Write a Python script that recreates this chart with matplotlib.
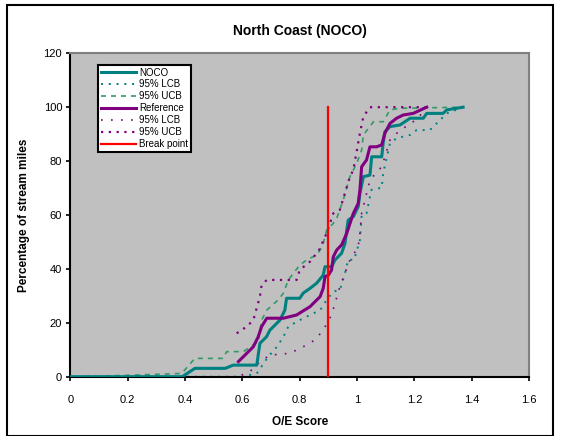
import matplotlib
matplotlib.use('Agg')
import matplotlib.pyplot as plt
from matplotlib.patches import Rectangle

plt.rcParams['font.family'] = ['Liberation Sans', 'DejaVu Sans']

# NOCO CDF and its confidence bounds
noco_x = [0.0, 0.39, 0.434, 0.54, 0.568, 0.65, 0.661, 0.684, 0.696, 0.731, 0.748, 0.754, 0.8, 0.812,
          0.836, 0.859, 0.882, 0.888, 0.911, 0.923, 0.946, 0.958, 0.964, 0.969, 0.987, 1.004, 1.01,
          1.022, 1.045, 1.051, 1.086, 1.091, 1.097, 1.115, 1.15, 1.185, 1.231, 1.243, 1.3, 1.313, 1.37]
noco_y = [0.0, 0.0, 3.1, 3.1, 4.3, 4.3, 12.4, 14.8, 17.3, 21.0, 24.7, 29.1, 29.1, 31.0,
          32.8, 34.7, 37.7, 40.8, 40.8, 43.3, 45.8, 49.5, 54.4, 58.1, 59.4, 63.1, 68.0,
          74.2, 74.8, 81.6, 81.6, 86.6, 90.9, 92.8, 93.4, 95.9, 95.9, 97.7, 97.7, 99.0, 100.0]

noco_lcb_x = [0.0, 0.60, 0.65, 0.69, 0.72, 0.743, 0.76, 0.8, 0.836, 0.871, 0.894, 0.917, 0.94,
              0.958, 0.969, 0.99, 1.01, 1.016, 1.033, 1.05, 1.08, 1.086, 1.091, 1.115, 1.138,
              1.185, 1.208, 1.254, 1.313, 1.37]
noco_lcb_y = [0.0, 0.0, 1.2, 7.4, 11.1, 14.8, 18.6, 21.0, 22.9, 24.7, 28.5, 31.6, 32.2,
              38.4, 43.4, 43.4, 50.8, 60.0, 60.6, 69.3, 70.0, 70.0, 75.5, 86.6, 88.5,
              89.7, 91.5, 91.5, 97.7, 100.0]

noco_ucb_x = [0.05, 0.388, 0.434, 0.533, 0.545, 0.603, 0.655, 0.667, 0.685, 0.725, 0.743, 0.76,
              0.8, 0.824, 0.859, 0.871, 0.882, 0.894, 0.917, 0.929, 0.952, 0.975, 0.999, 1.016,
              1.022, 1.057, 1.091, 1.115, 1.15, 1.37]
noco_ucb_y = [0.0, 1.2, 6.8, 6.8, 9.3, 9.3, 13.0, 21.0, 24.7, 28.5, 31.0, 35.9,
              41.4, 43.3, 45.2, 47.0, 49.5, 54.4, 56.9, 58.8, 65.6, 74.2, 79.2, 84.1,
              89.7, 94.6, 94.6, 99.0, 99.6, 100.0]

# Reference CDF and its confidence bounds
ref_x = [0.586, 0.638, 0.655, 0.667, 0.685, 0.743, 0.789, 0.836, 0.871, 0.882, 0.888, 0.9, 0.911,
         0.917, 0.929, 0.946, 0.964, 0.987, 1.004, 1.01, 1.016, 1.033, 1.045, 1.068, 1.086, 1.097,
         1.115, 1.138, 1.161, 1.196, 1.243]
ref_y = [5.6, 11.1, 14.8, 18.6, 21.7, 21.7, 22.9, 26.0, 29.7, 32.8, 37.1, 37.7, 39.6,
         44.5, 47.0, 48.9, 53.2, 60.6, 64.3, 69.3, 77.9, 80.4, 85.3, 85.3, 86.0, 90.3,
         94.0, 95.9, 97.1, 97.7, 100.0]

ref_lcb_x = [0.597, 0.626, 0.661, 0.696, 0.766, 0.812, 0.853, 0.882, 0.911, 0.94, 0.958, 0.969,
             1.004, 1.01, 1.016, 1.045, 1.086, 1.097, 1.115, 1.138, 1.185, 1.208, 1.243]
ref_lcb_y = [0.6, 1.9, 5.6, 8.0, 8.7, 11.1, 13.6, 17.3, 22.9, 33.4, 38.4, 42.1,
             48.2, 53.2, 60.6, 73.0, 77.9, 81.6, 87.8, 90.3, 94.0, 95.3, 100.0]

ref_ucb_x = [0.58, 0.615, 0.638, 0.661, 0.667, 0.685, 0.789, 0.8, 0.836, 0.859, 0.871, 0.882,
             0.894, 0.917, 0.94, 0.975, 0.987, 1.01, 1.022, 1.045, 1.243]
ref_ucb_y = [16.1, 18.6, 21.0, 29.7, 34.0, 35.9, 35.9, 39.6, 42.7, 45.8, 47.6, 50.5,
             53.2, 60.6, 61.9, 74.2, 76.7, 90.3, 96.5, 100.0, 100.0]

break_x = [0.9, 0.9]
break_y = [0, 100]

x_ticks = [0, 0.2, 0.4, 0.6, 0.8, 1.0, 1.2, 1.4, 1.6]
x_labels = ['0', '0.2', '0.4', '0.6', '0.8', '1', '1.2', '1.4', '1.6']
y_ticks = [0, 20, 40, 60, 80, 100, 120]

fig = plt.figure(figsize=(5.62, 4.36), dpi=100)
ax = fig.add_axes([0.1254, 0.136, 0.8159, 0.7418])
ax.set_facecolor('#c0c0c0')

teal = '#008080'
green = '#339966'
purple = '#800080'

ax.plot(noco_x, noco_y, color=teal, lw=2.2, label='NOCO', zorder=5)
ax.plot(noco_lcb_x, noco_lcb_y, color=teal, lw=1.4, linestyle=(0, (1, 3)), label='95% LCB')
ax.plot(noco_ucb_x, noco_ucb_y, color=green, lw=1.2, linestyle=(0, (3, 3)), label='95% UCB')
ax.plot(ref_x, ref_y, color=purple, lw=2.2, label='Reference', zorder=5)
ax.plot(ref_lcb_x, ref_lcb_y, color=purple, lw=1.2, linestyle=(0, (1, 5)), label='95% LCB')
ax.plot(ref_ucb_x, ref_ucb_y, color=purple, lw=1.6, linestyle=(0, (1, 2.5)), label='95% UCB')
ax.plot(break_x, break_y, color='red', lw=1.6, label='Break point', zorder=6)

ax.set_xlim(0, 1.6)
ax.set_ylim(0, 120)
ax.set_xticks(x_ticks)
ax.set_xticklabels(x_labels)
ax.set_yticks(y_ticks)
ax.tick_params(direction='out', length=3, width=1.2, labelsize=8, colors='black', pad=10)
ax.tick_params(axis='y', pad=3)

for s in ['left', 'bottom']:
    ax.spines[s].set_color('black')
    ax.spines[s].set_linewidth(1.5)
for s in ['top', 'right']:
    ax.spines[s].set_color('#808080')
    ax.spines[s].set_linewidth(1.5)

ax.set_title('North Coast (NOCO)', fontsize=10, fontweight='bold', pad=13)
ax.set_xlabel('O/E Score', fontsize=8.5, fontweight='bold', labelpad=8)
ax.set_ylabel('Percentage of stream miles', fontsize=8.5, fontweight='bold', labelpad=10)

leg = ax.legend(loc='upper left', bbox_to_anchor=(0.06, 0.965), fontsize=7, fancybox=False,
                framealpha=1, edgecolor='black', handlelength=3.6, handletextpad=0.3,
                labelspacing=0.2, borderpad=0.3, borderaxespad=0)
leg.get_frame().set_linewidth(1.5)

fig.patches.append(Rectangle((7 / 562, 0.0), 546 / 562, 1 - 5 / 436, transform=fig.transFigure,
                             fill=False, edgecolor='black', lw=1.5))

fig.savefig('out.png', dpi=100)
